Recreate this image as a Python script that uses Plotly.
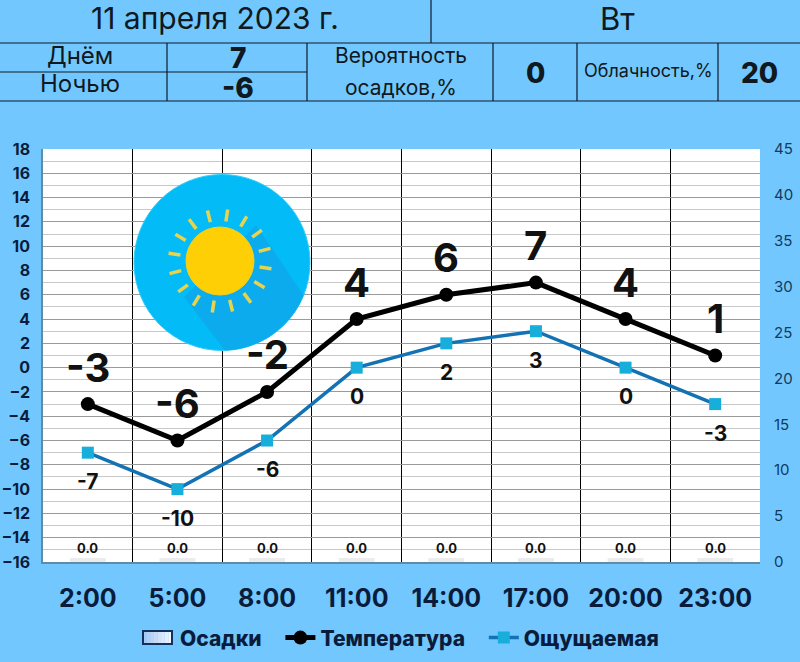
import math
import plotly.graph_objects as go

# Values
hours = ["2:00", "5:00", "8:00", "11:00", "14:00", "17:00", "20:00", "23:00"]
temperature = [-3, -6, -2, 4, 6, 7, 4, 1]
feels_like = [-7, -10, -6, 0, 2, 3, 0, -3]
precipitation = [0.0, 0.0, 0.0, 0.0, 0.0, 0.0, 0.0, 0.0]

date_text = "11 апреля 2023 г."
weekday_text = "Вт"
day_temp = "7"
night_temp = "-6"
rain_chance = "0"
cloudiness = "20"

WIDTH, HEIGHT = 800, 662
LEFT, RIGHT, TOP, BOTTOM = 43, 760, 149, 562
BG = "#72c8fe"
FONT = "Inter"
DARK = "#0a1c3c"
NOTICK = "rgba(0,0,0,0)"


def px(x):
    return (x - LEFT) / (RIGHT - LEFT)


def py(y):
    return (BOTTOM - y) / (BOTTOM - TOP)


fig = go.Figure()

# zero-height bars, the thick light outline gives the faint strip at the bottom
fig.add_trace(
    go.Bar(
        x=hours,
        y=precipitation,
        yaxis="y2",
        showlegend=False,
        marker=dict(color="rgba(0,0,0,0)", line=dict(color="#ececec", width=8)),
    )
)
# legend text for the bars, its swatch is drawn with shapes further down
fig.add_trace(
    go.Scatter(
        x=[None],
        y=[None],
        name="Осадки\u00a0\u00a0\u00a0",
        mode="lines",
        line=dict(color="rgba(0,0,0,0)", width=1),
    )
)
fig.add_trace(
    go.Scatter(
        x=hours,
        y=temperature,
        name="Температура\u00a0\u00a0\u00a0",
        mode="lines+markers",
        line=dict(color="black", width=5),
        marker=dict(symbol="circle", size=14, color="black"),
    )
)
fig.add_trace(
    go.Scatter(
        x=hours,
        y=feels_like,
        name="Ощущаемая",
        mode="lines+markers",
        line=dict(color="#1272b4", width=3.5),
        marker=dict(symbol="square", size=12, color="#17aedb"),
    )
)

shapes = []


def rule(x0, y0, x1, y1):
    shapes.append(
        dict(type="line", xref="paper", yref="paper", x0=px(x0), y0=py(y0),
             x1=px(x1), y1=py(y1), line=dict(color="#0c1a2a", width=1.2))
    )


# header table
rule(0, 43, 800, 43)
rule(0, 101, 800, 101)
rule(0, 72, 307, 72)
rule(431, 0, 431, 43)
for vx in (167, 307, 493, 577, 718):
    rule(vx, 43, vx, 101)


def deco(kind, **kw):
    shapes.append(dict(type=kind, xref="paper", yref="paper", layer="above", **kw))


# sun picture
cx, cy, big_r = 222, 262.5, 88
sx, sy, sun_r = 220, 261, 34
deco("circle", x0=px(cx - big_r), x1=px(cx + big_r), y0=py(cy + big_r), y1=py(cy - big_r),
     fillcolor="#03bbf6", line=dict(color="#2fcdf8", width=1))

shadow = [(sx + 36, sy - 36)]
for deg in range(22, 91, 6):
    a = math.radians(deg)
    shadow.append((cx + big_r * math.cos(a), cy + big_r * math.sin(a)))
shadow.append((sx - 36, sy + 36))
path = "M " + " L ".join(f"{px(a)},{py(b)}" for a, b in shadow) + " Z"
deco("path", path=path, fillcolor="#0cabee", line=dict(width=0))

for i in range(16):
    a = math.radians(8.5 + 22.5 * i)
    deco("line", x0=px(sx + 40 * math.cos(a)), y0=py(sy + 40 * math.sin(a)),
         x1=px(sx + 52 * math.cos(a)), y1=py(sy + 52 * math.sin(a)),
         line=dict(color="#e6d44e", width=3.5))
deco("circle", x0=px(sx - sun_r), x1=px(sx + sun_r), y0=py(sy + sun_r), y1=py(sy - sun_r),
     fillcolor="#ffcf06", line=dict(color="#f4d020", width=1))

# legend swatch of the bars, blue to white
for i in range(8):
    share = i / 7
    col = f"rgb({int(168 + 72 * share)},{int(200 + 46 * share)},{int(244 + 10 * share)})"
    deco("rect", x0=px(143 + 29 * i / 8), x1=px(143 + 29 * (i + 1) / 8), y0=py(644), y1=py(631),
         fillcolor=col, line=dict(width=0))
deco("rect", x0=px(143), x1=px(172), y0=py(644), y1=py(631), line=dict(color="#12305a", width=2))

annotations = []


def label(x, y, text, size, weight=400):
    annotations.append(
        dict(x=px(x), y=py(y), xref="paper", yref="paper", text=text, showarrow=False,
             xanchor="center", yanchor="middle",
             font=dict(family=FONT, size=size, color="#101820", weight=weight))
    )


label(215, 18, date_text, 30)
label(617, 18, weekday_text, 31)
label(80, 55, "Днём", 24)
label(80, 84, "Ночью", 24)
label(238, 58, day_temp, 28, 800)
label(238, 88, night_temp, 28, 800)
label(401, 55, "Вероятность", 21)
label(401, 87, "осадков,%", 21)
label(535, 73, rain_chance, 28, 800)
label(648, 70, "Облачность,%", 18)
label(759, 73, cloudiness, 28, 800)


def value_labels(values, yref, shift, size, weight, fmt):
    for h, v in zip(hours, values):
        annotations.append(
            dict(x=h, y=v, xref="x", yref=yref, text=fmt.format(v), showarrow=False,
                 yshift=shift, xanchor="center", yanchor="middle",
                 font=dict(family=FONT, size=size, color="#111111", weight=weight))
        )


value_labels(temperature, "y", 37, 40, 700, "{}")
value_labels(feels_like, "y", -29, 21, 700, "{}")
value_labels(precipitation, "y2", 14, 13, 700, "{:.1f}")

fig.update_layout(
    width=WIDTH,
    height=HEIGHT,
    autosize=False,
    margin=dict(l=LEFT, r=WIDTH - RIGHT, t=TOP, b=HEIGHT - BOTTOM, pad=0),
    paper_bgcolor=BG,
    plot_bgcolor="white",
    showlegend=True,
    legend=dict(
        orientation="h", x=0.5025, xref="container", xanchor="center", y=0.0363, yref="container",
        yanchor="middle", font=dict(family=FONT, size=21, color=DARK, weight=800),
        bgcolor="rgba(0,0,0,0)", itemwidth=30,
    ),
    shapes=shapes,
    annotations=annotations,
    xaxis=dict(
        automargin=False,
        tickson="boundaries",
        showgrid=True,
        gridcolor="black",
        gridwidth=1.2,
        ticks="",
        ticklabelstandoff=13,
        showline=True,
        linecolor="#5f8aa8",
        linewidth=1.5,
        tickfont=dict(family=FONT, size=25, color=DARK, weight=700),
    ),
    yaxis=dict(
        automargin=False,
        range=[-16, 18],
        dtick=2,
        tick0=-16,
        showgrid=True,
        gridcolor="#9a9a9a",
        gridwidth=1.2,
        minor=dict(dtick=1, showgrid=True, gridcolor="#c8c8c8", gridwidth=1),
        zeroline=False,
        showline=True,
        linecolor="#5f8aa8",
        linewidth=1.5,
        ticks="outside",
        ticklen=8,
        tickcolor=NOTICK,
        tickfont=dict(family=FONT, size=16, color=DARK, weight=700),
    ),
    yaxis2=dict(
        automargin=False,
        range=[0, 45],
        dtick=5,
        overlaying="y",
        side="right",
        showgrid=False,
        zeroline=False,
        ticks="outside",
        ticklen=10,
        tickcolor=NOTICK,
        tickfont=dict(family=FONT, size=15, color="#123a5c"),
    ),
    bargap=0.6,
    barmode="overlay",
)

fig.write_html(
    "out.html",
    config={"displayModeBar": False},
    post_script="document.body.style.margin='0';document.body.style.background='" + BG + "';",
)
